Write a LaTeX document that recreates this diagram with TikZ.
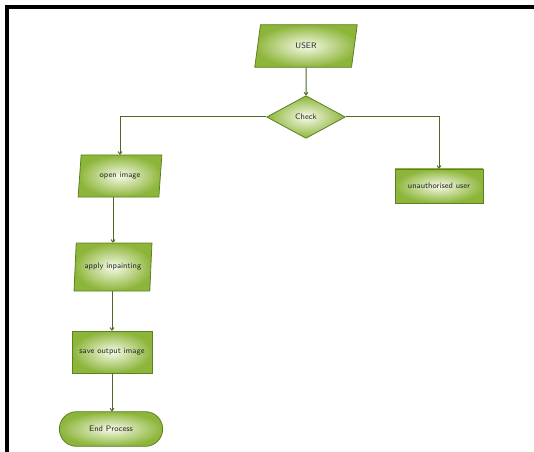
\documentclass[tikz,border=0pt]{standalone}
\usepackage{tikz}
\usepackage{xcolor}
\usetikzlibrary{shapes.geometric,shapes.misc,arrows.meta}

\definecolor{boxedge}{RGB}{92,128,36}
\definecolor{boxfill}{RGB}{141,181,58}
\definecolor{boxglow}{RGB}{246,250,232}
\definecolor{flowline}{RGB}{78,104,36}

\begin{document}
\begin{tikzpicture}[x=0.75pt,y=0.75pt,yscale=-1,xscale=1,
  shapebase/.style={draw=boxedge,line width=0.6pt,inner color=boxglow,outer color=boxfill,
    font=\fontsize{6}{7}\selectfont\sffamily,text=black!85,inner sep=1pt},
  iobox/.style={shapebase,trapezium,trapezium left angle=80,trapezium right angle=100,
    trapezium stretches=true},
  procbox/.style={shapebase,rectangle},
  checkbox/.style={shapebase,diamond,aspect=1.8},
  endbox/.style={shapebase,rounded rectangle},
  flow/.style={draw=flowline,line width=0.75pt,-{To[length=2.5pt,width=3.5pt]}}]
%set diagram to 534 x 452
\useasboundingbox (0,0) rectangle (534,452);

%Shape: Frame
\draw[line width=3pt] (7,452) -- (7,7) -- (534,7);

%Shape: Parallelogram
\node[iobox,minimum width=77pt,minimum height=32pt] (user) at (306,46) {USER};
%Shape: Diamond
\node[checkbox,minimum width=59pt,minimum height=32pt] (check) at (306,117) {Check};
%Shape: Parallelogram
\node[iobox,minimum width=63pt,minimum height=31.5pt] (open) at (120,176) {open image};
%Shape: Parallelogram
\node[iobox,minimum width=58.5pt,minimum height=36pt] (inpaint) at (113,267) {apply inpainting};
%Shape: Rectangle
\node[procbox,minimum width=60pt,minimum height=31.5pt] (save) at (112,352) {save output image};
%Shape: Rounded Rectangle
\node[endbox,minimum width=79.5pt,minimum height=26pt] (endproc) at (111,429) {End Process};
%Shape: Rectangle
\node[procbox,minimum width=66pt,minimum height=25.5pt] (unauth) at (439,186) {unauthorised user};

% Connectors
\draw[flow] (user) -- (check);
\draw[flow] (check.west) -| (open.north);
\draw[flow] (check.east) -| (unauth.north);
\draw[flow] (inpaint.north |- open.south) -- (inpaint.north);
\draw[flow] (save.north |- inpaint.south) -- (save.north);
\draw[flow] (save.south) -- (save.south |- endproc.north);

\end{tikzpicture}
\end{document}
